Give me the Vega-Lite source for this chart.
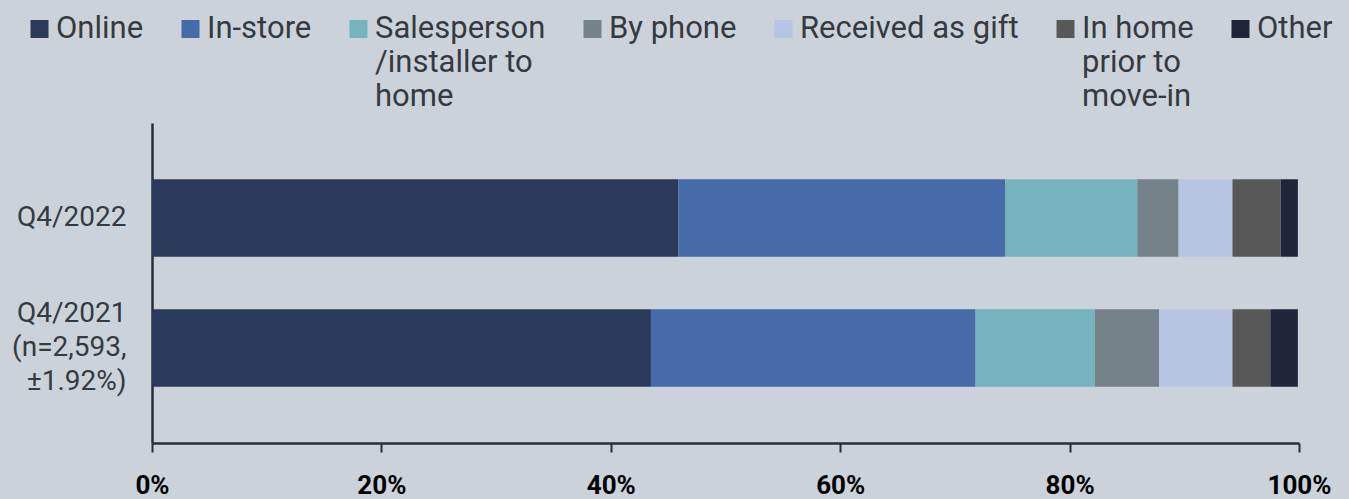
{
  "$schema": "https://vega.github.io/schema/vega-lite/v6.json",
  "width": 1147,
  "height": 320,
  "autosize": {"type": "none"},
  "padding": {"left": 152, "top": 123, "right": 50, "bottom": 56},
  "background": "#cbd2da",
  "config": {"view": {"stroke": null}, "font": "Roboto"},
  "data": {
    "values": [
      {"period": "Q4/2022", "method": "Online", "rank": 1, "value": 45.9},
      {"period": "Q4/2022", "method": "In-store", "rank": 2, "value": 28.5},
      {"period": "Q4/2022", "method": "Salesperson|/installer to|home", "rank": 3, "value": 11.5},
      {"period": "Q4/2022", "method": "By phone", "rank": 4, "value": 3.6},
      {"period": "Q4/2022", "method": "Received as gift", "rank": 5, "value": 4.7},
      {"period": "Q4/2022", "method": "In home|prior to|move-in", "rank": 6, "value": 4.2},
      {"period": "Q4/2022", "method": "Other", "rank": 7, "value": 1.5},
      {"period": "Q4/2021|(n=2,593,|±1.92%)", "method": "Online", "rank": 1, "value": 43.5},
      {"period": "Q4/2021|(n=2,593,|±1.92%)", "method": "In-store", "rank": 2, "value": 28.3},
      {"period": "Q4/2021|(n=2,593,|±1.92%)", "method": "Salesperson|/installer to|home", "rank": 3, "value": 10.4},
      {"period": "Q4/2021|(n=2,593,|±1.92%)", "method": "By phone", "rank": 4, "value": 5.6},
      {"period": "Q4/2021|(n=2,593,|±1.92%)", "method": "Received as gift", "rank": 5, "value": 6.4},
      {"period": "Q4/2021|(n=2,593,|±1.92%)", "method": "In home|prior to|move-in", "rank": 6, "value": 3.3},
      {"period": "Q4/2021|(n=2,593,|±1.92%)", "method": "Other", "rank": 7, "value": 2.4}
    ]
  },
  "mark": {"type": "bar"},
  "encoding": {
    "y": {
      "field": "period",
      "type": "nominal",
      "sort": ["Q4/2022", "Q4/2021|(n=2,593,|±1.92%)"],
      "scale": {"paddingInner": 0.402, "paddingOuter": 0.432},
      "axis": {
        "title": null,
        "domain": true,
        "domainWidth": 2.5,
        "domainColor": "#2a2e37",
        "ticks": false,
        "labelPadding": 26,
        "labelFont": "Roboto",
        "labelFontSize": 28,
        "labelColor": "#363a40",
        "labelLimit": 300,
        "labelLineHeight": 34,
        "labelOffset": {"condition": {"test": "datum.value !== 'Q4/2022'", "value": -34}, "value": 0},
        "labelExpr": "split(datum.label, '|')"
      }
    },
    "x": {
      "field": "value",
      "type": "quantitative",
      "stack": "zero",
      "scale": {"domain": [0, 100], "nice": false},
      "axis": {
        "title": null,
        "grid": false,
        "values": [0, 20, 40, 60, 80, 100],
        "labelExpr": "datum.value + '%'",
        "labelFont": "Roboto",
        "labelFontWeight": "bold",
        "labelFontSize": 26,
        "labelColor": "#000000",
        "labelPadding": 20,
        "labelFlush": false,
        "labelOverlap": false,
        "labelBound": false,
        "tickSize": 9,
        "tickWidth": 2,
        "tickColor": "#2a2e37",
        "domainWidth": 2.5,
        "domainColor": "#2a2e37"
      }
    },
    "order": {"field": "rank", "type": "quantitative", "sort": "ascending"},
    "color": {
      "field": "method",
      "type": "nominal",
      "sort": ["Online", "In-store", "Salesperson|/installer to|home", "By phone", "Received as gift", "In home|prior to|move-in", "Other"],
      "scale": {
        "domain": ["Online", "In-store", "Salesperson|/installer to|home", "By phone", "Received as gift", "In home|prior to|move-in", "Other"],
        "range": ["#2b3a5a", "#456ba8", "#75b4be", "#758289", "#b8c5e2", "#585858", "#20253a"]
      },
      "legend": {
        "orient": "none",
        "legendX": -128,
        "legendY": -111,
        "direction": "horizontal",
        "columns": 7,
        "title": null,
        "symbolType": "square",
        "symbolSize": 324,
        "symbolStrokeWidth": 0,
        "symbolOpacity": 1,
        "labelFont": "Roboto",
        "labelFontSize": 31,
        "labelColor": "#363a40",
        "labelOffset": 1,
        "columnPadding": 31,
        "labelLimit": 400,
        "labelBaseline": "top",
        "labelExpr": "indexof(datum.label, '|') >= 0 ? split(datum.label, '|') : [datum.label, ' ', ' ']",
        "encode": {
          "symbols": {"update": {"y": {"value": 17}}},
          "labels": {"update": {"y": {"value": 17}, "dy": {"value": -15}, "lineHeight": {"value": 34}}}
        }
      }
    }
  }
}
